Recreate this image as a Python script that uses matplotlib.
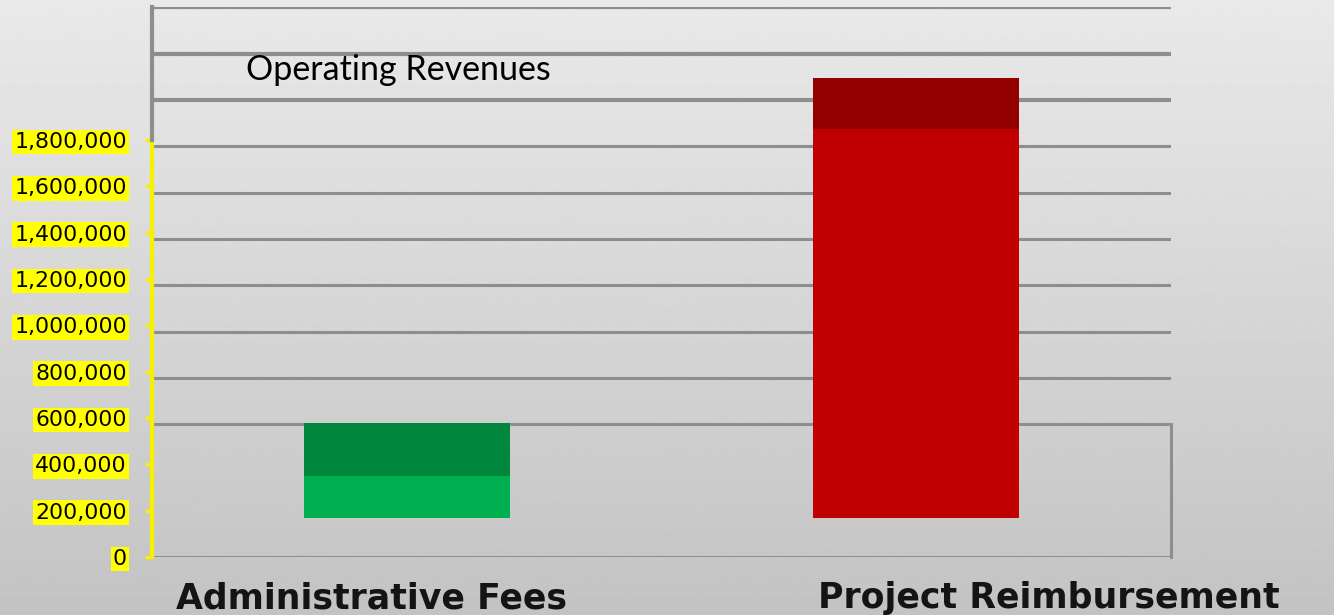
import numpy as np
import matplotlib
matplotlib.use("Agg")
import matplotlib.pyplot as plt

# data
categories = ["Administrative Fees", "Project Reimbursement"]
base = [168000, 168000]          # bars float above zero
lower_top = [350000, 1848000]    # top of the light segment
upper_top = [578000, 2068000]    # top of the dark segment
light_colors = ["#00b050", "#c00000"]
dark_colors = ["#00863d", "#920000"]
tick_values = list(range(0, 1800001, 200000))
grid_values = list(range(600000, 2400001, 200000))

fig = plt.figure(figsize=(13.34, 6.15), dpi=100)

# grey gradient background
bg = fig.add_axes([0, 0, 1, 1], zorder=-10)
grad = np.linspace(0.915, 0.765, 256).reshape(-1, 1)
bg.imshow(grad, aspect="auto", cmap="gray", vmin=0, vmax=1, extent=[0, 1, 0, 1])
bg.axis("off")

W, H = 1334, 615
ax = fig.add_axes([152 / W, (H - 557) / H, (1171 - 152) / W, (557 - 7) / H])
ax.patch.set_alpha(0)
ax.set_xlim(-0.5, 1.5)
ax.set_ylim(0, 2374000)

x = np.arange(len(categories))
lower_h = [t - b for t, b in zip(lower_top, base)]
upper_h = [t - l for t, l in zip(upper_top, lower_top)]
ax.bar(x, lower_h, bottom=base, width=0.404, color=light_colors, zorder=3)
ax.bar(x, upper_h, bottom=lower_top, width=0.404, color=dark_colors, zorder=3)

# gridlines (sit a little below the tick values in the original)
gcol = "#8e8e8e"
for g in grid_values:
    lw = 3 if g >= 2000000 else 2.2
    ax.axhline(g - 27000, color=gcol, lw=lw, zorder=1)
box_top = grid_values[0] - 27000
ax.plot([1.5, 1.5], [0, box_top], color=gcol, lw=2.2, clip_on=False, zorder=1)
ax.axhline(0, color=gcol, lw=2.2, zorder=1)

for s in ["top", "right", "bottom", "left"]:
    ax.spines[s].set_visible(False)
ax.plot([-0.5, -0.5], [0, 1812000], color="#f7f000", lw=3, clip_on=False, zorder=4)
ax.plot([-0.5, -0.5], [1800000, 2374000], color=gcol, lw=3, clip_on=False, zorder=4)

ax.set_yticks(tick_values)
ax.set_yticklabels([f"{v:,}" for v in tick_values])
ax.tick_params(axis="y", length=5, width=2.5, color="#f7f000", pad=13)
for lab in ax.get_yticklabels():
    lab.set_fontfamily("DejaVu Sans")
    lab.set_fontsize(15.8)
    lab.set_bbox(dict(facecolor="#ffff00", edgecolor="none", boxstyle="square,pad=0.1"))
ax.set_xticks([])

ax.text(0.092, 0.867, "Operating Revenues", transform=ax.transAxes,
        fontsize=24.5, family="Lato", color="black", va="baseline")

ax.text(-0.07, -0.075, categories[0], transform=ax.get_xaxis_transform(),
        ha="center", va="center", fontsize=25, fontweight="bold",
        family="DejaVu Sans", color="#141414")
ax.text(1.26, -0.075, categories[1], transform=ax.get_xaxis_transform(),
        ha="center", va="center", fontsize=25, fontweight="bold",
        family="DejaVu Sans", color="#141414")

fig.savefig("out.png", dpi=100)
